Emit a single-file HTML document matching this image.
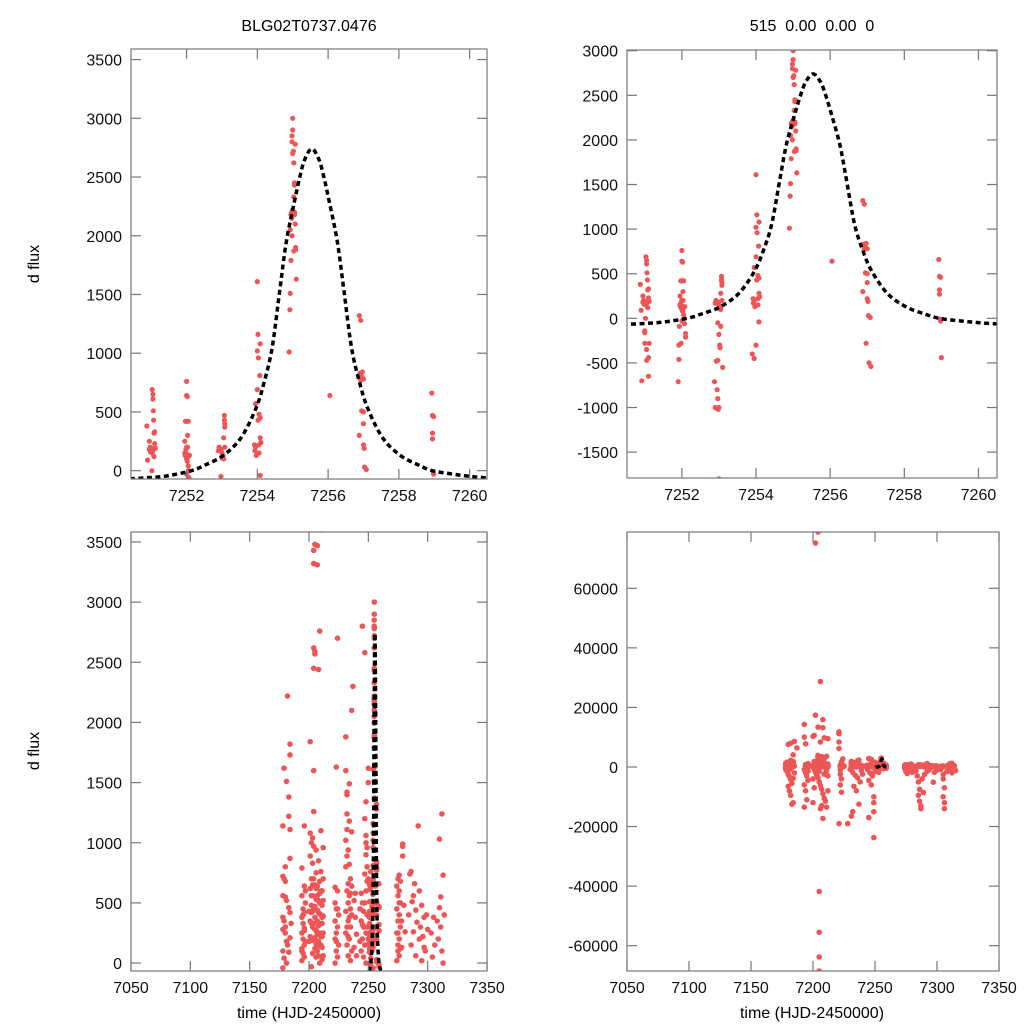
<!DOCTYPE html>
<html><head><meta charset="utf-8"><style>
html,body{margin:0;padding:0;background:#fff;width:1024px;height:1024px;overflow:hidden;}
svg{display:block;font-family:"Liberation Sans",Arial,sans-serif;}
</style></head><body>
<svg id="chart" width="1024" height="1024" viewBox="0 0 1024 1024" xmlns="http://www.w3.org/2000/svg">
<rect width="1024" height="1024" fill="#fff"/>
<text x="309" y="31" font-size="16" text-anchor="middle">BLG02T0737.0476</text>
<text x="812" y="31" font-size="16" text-anchor="middle" xml:space="preserve" style="white-space:pre">515  0.00  0.00  0</text>
<text transform="translate(39,264) rotate(-90)" font-size="16" text-anchor="middle">d flux</text>
<text transform="translate(39,751) rotate(-90)" font-size="16" text-anchor="middle">d flux</text>
<text x="309" y="1018" font-size="16" text-anchor="middle">time (HJD-2450000)</text>
<text x="812" y="1018" font-size="16" text-anchor="middle">time (HJD-2450000)</text>
</svg>
<script>
// ---- data ----
const zoomData = [
[7250.88,380],[7250.9,90],[7250.92,-700],[7250.95,250],[7250.95,180],[7250.97,200],[7250.98,160],[7251.0,-140],[7251.0,-160],[7251.0,-280],[7251.02,0],[7251.03,690],[7251.05,650],[7251.05,610],[7251.06,510],[7251.07,430],[7251.05,170],[7251.08,320],[7251.1,330],[7251.1,230],[7251.08,190],[7251.12,190],[7251.05,-350],[7251.05,-470],[7251.1,-440],[7251.12,-280],[7251.1,-650],[7251.08,120],[7251.03,150],
[7251.9,-710],[7251.92,-460],[7251.92,-300],[7251.93,-90],[7251.95,250],[7251.95,150],[7251.96,130],[7251.97,420],[7251.98,180],[7252.0,760],[7252.0,640],[7252.02,630],[7252.0,420],[7252.05,420],[7252.0,200],[7252.0,100],[7252.02,80],[7252.0,-30],[7252.03,300],[7252.05,130],[7252.05,120],[7252.08,130],[7252.05,40],[7252.06,0],[7252.07,-60],[7252.1,-170],[7252.1,-210],[7251.98,-280],[7252.0,140],[7252.03,200],
[7252.88,-710],[7252.9,-1000],[7252.9,170],[7252.92,200],[7252.93,-480],[7252.95,-800],[7252.95,-1010],[7252.97,-900],[7252.97,-470],[7252.97,-50],[7252.98,-1020],[7253.0,-1800],[7253.0,-1000],[7253.0,-180],[7253.0,150],[7253.0,110],[7253.02,-300],[7253.03,-330],[7253.03,130],[7253.05,280],[7253.05,-90],[7253.07,470],[7253.07,430],[7253.08,400],[7253.08,370],[7253.08,200],[7253.1,-550],[7253.05,100],[7252.98,180],
[7253.9,-400],[7253.92,220],[7253.93,170],[7253.95,-450],[7253.95,200],[7253.95,570],[7253.97,130],[7254.0,1610],[7254.0,1020],[7254.0,690],[7254.0,-300],[7254.02,1160],[7254.02,430],[7254.03,960],[7254.05,150],[7254.05,480],[7254.07,810],[7254.08,1080],[7254.08,450],[7254.08,280],[7254.1,240],[7254.08,-40],[7254.05,220],
[7254.9,1010],[7254.92,1370],[7254.93,1510],[7254.95,1790],[7254.93,2050],[7254.95,2180],[7254.97,2150],[7254.97,2200],[7254.98,2800],[7255.0,3000],[7255.0,2900],[7254.98,2850],[7255.0,2700],[7255.02,2720],[7255.03,2620],[7255.05,2450],[7255.05,2430],[7255.03,2330],[7255.0,2220],[7255.05,2200],[7255.07,2780],[7255.07,2100],[7255.03,1870],[7255.08,1880],[7255.08,1900],[7255.1,1630],[7254.98,2000],[7255.05,2180],
[7256.05,640],
[7256.88,1320],[7256.92,1280],[7256.88,300],[7256.9,830],[7256.92,770],[7256.95,800],[7256.95,510],[7256.97,840],[7256.97,-280],[7257.0,780],[7257.0,500],[7257.0,400],[7257.0,220],[7257.02,190],[7257.03,30],[7257.05,-500],[7257.08,10],[7257.1,-540],
[7258.93,660],[7258.95,470],[7258.98,460],[7258.95,320],[7258.95,270],[7258.97,-10],[7258.98,-30],[7259.0,-440]
];
const seasonData = [
[7179,1620],[7181,1510],[7183,1380],[7178,1140],[7182,2220],[7184,1820],[7184,1730],[7183,1220],[7184,1110],[7184,870],[7180,800],[7178,720],[7179,700],[7180,680],[7178,560],[7180,550],[7184,420],[7178,380],[7179,350],[7178,280],[7180,250],[7181,180],[7178,100],[7179,40],[7178,-40],[7181,520],[7183,460],[7180,300],[7182,150],[7181,0],[7185,330],[7184,210],[7183,90],
[7201,1840],[7196,1140],[7194,790],[7196,640],[7194,560],[7197,500],[7195,450],[7196,420],[7194,380],[7195,330],[7196,290],[7194,250],[7195,200],[7197,180],[7196,150],[7194,120],[7195,80],[7196,50],[7194,20],[7197,600],[7195,400],[7196,270],[7194,100],
[7205,3480],[7207,3470],[7204,3430],[7204,3320],[7207,3310],[7209,2760],[7204,2620],[7205,2590],[7205,2570],[7204,2450],[7208,2440],[7204,1600],[7204,1260],[7210,1100],[7201,1080],[7203,1040],[7202,1000],[7204,970],[7212,960],[7206,940],[7201,890],[7208,850],[7203,830],[7210,760],[7206,750],[7202,700],[7209,680],[7205,650],[7207,640],[7211,600],[7203,560],[7206,530],[7209,500],[7202,480],[7204,450],[7208,420],[7210,400],[7205,380],[7207,350],[7211,330],[7203,300],[7206,270],[7209,250],[7201,220],[7204,200],[7208,180],[7210,150],[7205,120],[7207,100],[7203,80],[7206,50],[7211,30],[7209,0],[7202,-30],
[7201,620],[7202,420],[7202,330],[7203,190],[7204,700],[7205,470],[7205,280],[7206,160],[7207,560],[7208,310],[7208,60],[7209,410],[7210,600],[7210,220],[7211,480],[7211,130],[7212,700],[7212,390],[7212,250],[7212,60],
[7201,350],[7202,560],[7203,650],[7204,330],[7205,210],[7206,620],[7207,240],[7208,520],[7209,140],[7210,330],[7211,220],[7212,520],[7200,180],[7200,430],[7203,430],[7207,440],[7209,580],[7211,380],
[7224,2700],[7223,1630],[7222,630],[7224,600],[7222,500],[7223,450],[7225,400],[7222,350],[7224,300],[7223,250],[7222,200],[7225,150],[7223,100],[7224,50],[7222,0],[7224,450],[7223,180],
[7237,2300],[7231,1880],[7231,1600],[7234,1490],[7232,1420],[7232,1400],[7232,1240],[7234,1180],[7232,1110],[7236,1090],[7231,1020],[7233,940],[7232,890],[7234,820],[7231,800],[7235,700],[7233,660],[7236,640],[7232,600],[7234,560],[7233,500],[7235,450],[7231,430],[7236,400],[7233,350],[7235,300],[7231,250],[7234,200],[7232,150],[7236,100],[7233,60],[7235,20],[7238,520],[7239,380],[7240,240],[7238,130],[7239,580],[7240,60],[7234,380],[7232,300],[7235,580],[7233,220],
[7247,2580],[7248,1340],[7247,1200],[7248,1060],[7248,1000],[7249,960],[7248,900],[7249,800],[7247,740],[7249,680],[7248,600],[7244,580],[7245,500],[7246,430],[7249,400],[7244,350],[7246,300],[7248,250],[7245,200],[7247,150],[7244,100],[7246,50],[7248,0],[7250,1620],[7250,1500],[7243,450],[7245,320],[7243,180],[7247,500],[7249,300],[7250,700],[7250,200],
[7279,990],[7279,970],[7279,890],[7276,730],[7275,700],[7277,680],[7274,640],[7276,600],[7275,560],[7277,500],[7274,450],[7276,400],[7275,350],[7277,300],[7274,250],[7276,200],[7275,150],[7277,120],[7275,100],[7276,60],[7274,20],[7278,350],[7278,130],[7280,480],[7281,260],[7276,500],[7275,250],
[7292,1140],[7286,760],[7285,740],[7289,660],[7293,600],[7288,560],[7287,510],[7295,480],[7290,440],[7284,400],[7297,380],[7291,340],[7294,300],[7288,260],[7296,220],[7293,200],[7286,150],[7298,100],[7290,60],[7295,20],[7299,400],[7300,280],[7297,130],
[7312,1240],[7310,1030],[7313,730],[7311,550],[7310,460],[7314,400],[7305,380],[7308,350],[7311,300],[7303,250],[7309,200],[7306,150],[7312,100],[7304,50],[7313,0],
[7178,-800],[7179,-1500],[7180,-2500],[7181,-3200],[7182,-4200],[7183,-5500],[7180,-6500],[7181,-8000],[7182,-9500],[7183,-12500],[7184,-12000],[7179,-1000],[7185,-2000],[7182,-700],[7184,-3800],
[7193,-900],[7194,-2000],[7195,-3000],[7196,-4500],[7193,-6000],[7194,-8000],[7195,-11000],[7193,-13500],[7196,-1400],
[7201,-800],[7202,-1800],[7203,-2600],[7204,-3600],[7205,-5000],[7206,-6200],[7207,-7500],[7208,-9000],[7209,-10500],[7210,-11500],[7207,-13000],[7206,-14000],[7208,-17300],[7211,-13500],[7212,-8000],[7200,-12000],[7210,-2200],[7211,-1200],[7212,-3000],[7203,-900],[7205,-1500],[7209,-2400],[7200,-4000],[7201,-7000],
[7222,-1000],[7222,-2500],[7223,-4000],[7222,-6000],[7223,-8500],[7221,-19000],[7228,-19000],[7232,-15000],[7231,-16500],
[7230,-800],[7232,-1800],[7234,-2800],[7236,-3600],[7238,-5000],[7233,-6500],[7235,-8000],[7237,-12500],[7239,-1200],[7240,-2400],
[7244,-900],[7246,-2000],[7248,-3000],[7245,-4500],[7247,-6000],[7249,-10000],[7249,-12000],[7249,-15000],[7245,-17000],[7249,-23700],[7250,-1500],[7251,-800],[7252,-1200],
[7274,-600],[7275,-1500],[7276,-2200],[7278,-900],[7280,-1800],[7281,-700],
[7283,-1200],[7284,-3000],[7285,-5000],[7286,-7500],[7285,-9500],[7286,-11500],[7287,-13000],[7287,-14000],[7289,-8600],[7290,-2500],[7292,-1500],[7294,-800],[7297,-5100],[7298,-1800],[7300,-1000],[7288,-4000],
[7303,-800],[7305,-2500],[7305,-4000],[7306,-7000],[7305,-10000],[7306,-12000],[7306,-14000],[7308,-1500],[7310,-900],[7312,-2000],[7314,-600],[7315,-1200],
[7180,7600],[7182,8000],[7185,8600],[7187,6400],[7184,4100],[7193,14300],[7193,10000],[7194,7800],[7200,10300],[7201,10600],[7202,17400],[7202,75200],[7204,78900],[7206,28700],[7208,15900],[7204,13400],[7208,13200],[7209,9800],[7212,9500],[7206,8400],[7204,3900],[7211,3600],[7221,11800],[7221,11200],[7221,8400],[7221,6200],[7245,2800],[7236,2100],
[7205,-41800],[7205,-55500],[7205,-63800],[7205,-68500]
];
const modelT = [7250.4,7250.5,7251,7251.5,7252.14,7252.54,7253.04,7253.54,7253.96,7254.19,7254.42,7254.64,7254.82,7255.04,7255.2,7255.34,7255.54,7255.74,7255.88,7256.04,7256.26,7256.44,7256.66,7256.89,7257.12,7257.54,7258.04,7258.54,7258.94,7259.54,7260.04,7260.5];
const modelF = [-70,-68,-58,-42,0,50,130,280,530,750,1050,1550,1950,2280,2500,2650,2740,2650,2500,2280,1950,1550,1050,750,530,280,130,50,0,-30,-50,-62];
const tlYTicks = [0,500,1000,1500,2000,2500,3000,3500];
const trYTicks = [-1500,-1000,-500,0,500,1000,1500,2000,2500,3000];
const zoomXTicks = [7252,7254,7256,7258,7260];
const blYTicks = [0,500,1000,1500,2000,2500,3000,3500];
const brYTicks = [-60000,-40000,-20000,0,20000,40000,60000];
const fullXTicks = [7050,7100,7150,7200,7250,7300,7350];

const NS='http://www.w3.org/2000/svg';
const svg=document.getElementById('chart');
function mk(tag,attrs,parent){const e=document.createElementNS(NS,tag);for(const k in attrs)e.setAttribute(k,attrs[k]);(parent||svg).appendChild(e);return e;}

const panels=[
 {id:'top-left',box:[131,49,487,479],x:[7250.43,7260.49],y:[-71,3590],yt:tlYTicks,xt:zoomXTicks,data:zoomData,r:2.6},
 {id:'top-right',box:[627,50,997,478],x:[7250.52,7260.5],y:[-1790,3008],yt:trYTicks,xt:zoomXTicks,data:zoomData,r:2.6},
 {id:'bottom-left',box:[131,532,487,971],x:[7050,7350],y:[-66,3583],yt:blYTicks,xt:fullXTicks,data:seasonData.concat(zoomData),r:2.8},
 {id:'bottom-right',box:[627,532,999,971],x:[7050,7350],y:[-68500,78900],yt:brYTicks,xt:fullXTicks,data:seasonData.concat(zoomData),r:2.8}
];

panels.forEach((p,i)=>{
  const [x0,y0,x1,y1]=p.box;
  const sx=v=>x0+(v-p.x[0])/(p.x[1]-p.x[0])*(x1-x0);
  const sy=v=>y1-(v-p.y[0])/(p.y[1]-p.y[0])*(y1-y0);
  const g=mk('g',{});
  
  
  const cp=mk('clipPath',{id:'clip'+i},g);
  mk('rect',{x:x0,y:y0,width:x1-x0,height:y1-y0},cp);
  const pts=mk('g',{'clip-path':'url(#clip'+i+')',fill:'#ec5656'},g);
  
  
  p.data.forEach(d=>{
    const c=mk('circle',{cx:sx(d[0]).toFixed(1),cy:sy(d[1]).toFixed(1),r:p.r},pts);
    
    
  });
  const P=modelT.map((t,k)=>[sx(t),sy(modelF[k])]);
  let dstr='M'+P[0][0].toFixed(2)+','+P[0][1].toFixed(2);
  for(let k=0;k<P.length-1;k++){
    const p0=P[k-1]||P[k],p1=P[k],p2=P[k+1],p3=P[k+2]||P[k+1];
    const c1=[p1[0]+(p2[0]-p0[0])/6,p1[1]+(p2[1]-p0[1])/6];
    const c2=[p2[0]-(p3[0]-p1[0])/6,p2[1]-(p3[1]-p1[1])/6];
    dstr+=' C'+c1.map(v=>v.toFixed(2))+' '+c2.map(v=>v.toFixed(2))+' '+p2.map(v=>v.toFixed(2));
  }
  const m=mk('path',{d:dstr,fill:'none',stroke:'#000','stroke-width':3.5,'stroke-dasharray':'5,3.5','clip-path':'url(#clip'+i+')'},g);
  
  
  const fr=mk('rect',{x:x0,y:y0,width:x1-x0,height:y1-y0,fill:'none',stroke:'#777','stroke-width':1.2},g);
  
  
  p.yt.forEach(v=>{
    const y=sy(v);
    mk('line',{x1:x0,x2:x0+10,y1:y,y2:y,stroke:'#777','stroke-width':1.2},g);
    mk('line',{x1:x1-10,x2:x1,y1:y,y2:y,stroke:'#777','stroke-width':1.2},g);
    const t=mk('text',{x:x0-9,y:y+6,'font-size':16,'text-anchor':'end',fill:'#111'},g);
    t.textContent=v;
    
    
  });
  p.xt.forEach(v=>{
    const x=sx(v);
    mk('line',{x1:x,x2:x,y1:y1,y2:y1-10,stroke:'#777','stroke-width':1.2},g);
    mk('line',{x1:x,x2:x,y1:y0,y2:y0+10,stroke:'#777','stroke-width':1.2},g);
    const t=mk('text',{x:x,y:y1+22,'font-size':16,'text-anchor':'middle',fill:'#111'},g);
    t.textContent=v;
    
    
  });
});
</script>
</body></html>
